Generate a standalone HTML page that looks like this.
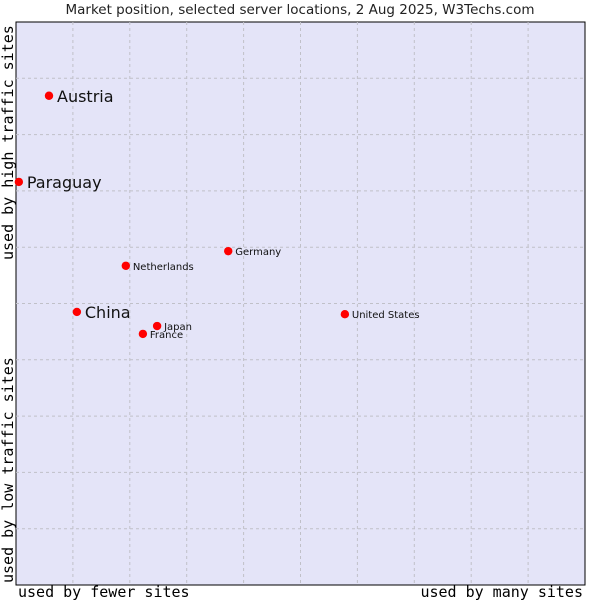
<!DOCTYPE html>
<html><head><meta charset="utf-8"><style>
html,body{margin:0;padding:0;background:#fff;}
svg text{font-family:"DejaVu Sans","Liberation Sans",sans-serif;}
.mono{font-family:"DejaVu Sans Mono","Liberation Mono",monospace !important;}
</style></head><body>
<svg id="chart" width="600" height="600" xmlns="http://www.w3.org/2000/svg">
<text x="300" y="14" text-anchor="middle" font-size="13.5" fill="#222">Market position, selected server locations, 2 Aug 2025, W3Techs.com</text>
<rect x="16" y="22" width="569" height="563" fill="#e4e4f8" stroke="#000" stroke-width="1"/>
<g id="grid"></g>
<g id="points"></g>
<text class="mono" x="18" y="597" font-size="15" fill="#000">used by fewer sites</text>
<text class="mono" x="583" y="597" text-anchor="end" font-size="15" fill="#000">used by many sites</text>
<text class="mono" transform="translate(13,583) rotate(-90)" font-size="15" fill="#000">used by low traffic sites</text>
<text class="mono" transform="translate(13,260) rotate(-90)" font-size="15" fill="#000">used by high traffic sites</text>
</svg>
<script>
const countries = ["Austria","Paraguay","Germany","Netherlands","China","United States","Japan","France"];
const usage = [0.58,0.05,3.73,1.93,1.07,5.78,2.48,2.23];
const traffic = [8.69,7.16,5.93,5.67,4.85,4.81,4.60,4.46];
const big = [true,true,false,false,true,false,false,false];
const ns="http://www.w3.org/2000/svg";
const X0=16,X1=585,Y0=585,Y1=22;
const xs=v=>X0+v/10*(X1-X0);
const ys=v=>Y0-v/10*(Y0-Y1);
const grid=document.getElementById('grid');
for(let i=1;i<10;i++){
  const lv=document.createElementNS(ns,'line');
  
  
  lv.setAttribute('x1',xs(i));lv.setAttribute('x2',xs(i));lv.setAttribute('y1',Y1);lv.setAttribute('y2',Y0);
  lv.setAttribute('stroke','#c0c0c8');lv.setAttribute('stroke-dasharray','3,3');
  grid.appendChild(lv);
  const lh=document.createElementNS(ns,'line');
  
  
  lh.setAttribute('y1',ys(i));lh.setAttribute('y2',ys(i));lh.setAttribute('x1',X0);lh.setAttribute('x2',X1);
  lh.setAttribute('stroke','#c0c0c8');lh.setAttribute('stroke-dasharray','3,3');
  grid.appendChild(lh);
}
const pts=document.getElementById('points');
countries.forEach((c,i)=>{
  const cx=xs(usage[i]),cy=ys(traffic[i]);
  const m=document.createElementNS(ns,'circle');
  
  
  m.setAttribute('cx',cx);m.setAttribute('cy',cy);m.setAttribute('r',4.2);m.setAttribute('fill','#f00');
  pts.appendChild(m);
  const t=document.createElementNS(ns,'text');
  
  
  t.setAttribute('x',cx+(big[i]?8:7));
  t.setAttribute('y',cy+(big[i]?6:4));
  t.setAttribute('font-size',big[i]?16:10);
  t.setAttribute('fill','#111');
  t.textContent=c;
  pts.appendChild(t);
});
</script>
</body></html>
